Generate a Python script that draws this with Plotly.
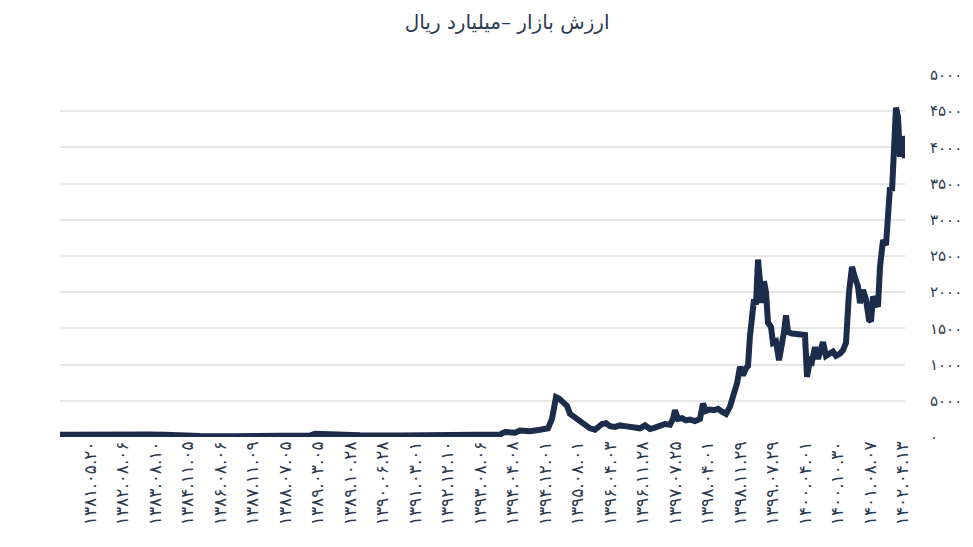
import plotly.graph_objects as go

# trading-day index (approx.) and market value (billion rials)
day = [0, 90, 150, 210, 360, 540, 630, 720, 840, 1020, 1200, 1380, 1500, 1530, 1620, 1800, 2040,
       2280, 2400, 2520, 2640, 2670, 2730, 2760, 2820, 2880, 2928, 2952, 2976, 2994, 3018, 3042,
       3060, 3090, 3120, 3150, 3180, 3210, 3228, 3252, 3276, 3300, 3330, 3360, 3390, 3420, 3450,
       3480, 3510, 3540, 3570, 3600, 3630, 3660, 3678, 3690, 3708, 3732, 3756, 3780, 3810, 3840,
       3858, 3876, 3900, 3924, 3948, 3972, 3996, 4020, 4044, 4062, 4080, 4098, 4116, 4128, 4140,
       4152, 4164, 4176, 4188, 4200, 4212, 4224, 4236, 4248, 4266, 4278, 4296, 4314, 4332, 4344,
       4356, 4368, 4392, 4440, 4470, 4482, 4500, 4512, 4530, 4548, 4578, 4596, 4620, 4638, 4656,
       4680, 4698, 4716, 4734, 4752, 4770, 4788, 4800, 4818, 4836, 4854, 4866, 4878, 4896, 4908,
       4920, 4938, 4956, 4968, 4980, 4992, 5004, 5016, 5028, 5040, 5052, 5064, 5070]
value = [300, 320, 400, 330, 300, 350, 300, 200, 150, 120, 130, 150, 200, 450, 350, 250, 200,
         250, 350, 300, 350, 700, 600, 900, 800, 1000, 1200, 2500, 5500, 5300, 4800, 4300,
         3200, 2700, 2200, 1700, 1200, 1000, 1300, 1800, 1900, 1500, 1400, 1600, 1500, 1400, 1500,
         1200, 1600, 1100, 1300, 1500, 1800, 1700, 2500, 3700, 2500, 2600, 2300, 2400, 2200, 2500,
         4600, 3600, 3800, 3700, 3900, 3500, 3200, 4200, 5800, 7400, 9700, 8500, 9500, 9800, 14000,
         17800, 19000, 18300, 24500, 21500, 18500, 21500, 20000, 15800, 15200, 13000, 13200, 10600,
         12500, 14500, 16800, 14500, 14300, 14200, 14100, 8300, 10600, 10400, 12400, 10800, 13100,
         11200, 11600, 11800, 11200, 11500, 12000, 13000, 20000, 23500, 22000, 20800, 18500, 20300,
         19000, 16200, 16000, 19400, 18500, 18000, 23500, 27200, 26500, 30900, 34500, 34000, 39000,
         45500, 44200, 38700, 41400, 41000, 38500]

tick_days = [180 + 195 * i for i in range(26)]
tick_labels = ["۱۳۸۱.۰۵.۲۰", "۱۳۸۲.۰۸.۰۶", "۱۳۸۳.۰۸.۱۰", "۱۳۸۴.۱۱.۰۵", "۱۳۸۶.۰۸.۰۶",
               "۱۳۸۷.۱۱.۰۹", "۱۳۸۸.۰۷.۰۵", "۱۳۸۹.۰۳.۰۵", "۱۳۸۹.۱۰.۲۸", "۱۳۹۰.۰۶.۲۸",
               "۱۳۹۱.۰۳.۰۱", "۱۳۹۲.۱۲.۱۰", "۱۳۹۳.۰۸.۰۶", "۱۳۹۴.۰۴.۰۸", "۱۳۹۴.۱۲.۰۱",
               "۱۳۹۵.۰۸.۰۱", "۱۳۹۶.۰۴.۰۳", "۱۳۹۶.۱۱.۲۸", "۱۳۹۷.۰۷.۲۵", "۱۳۹۸.۰۴.۰۱",
               "۱۳۹۸.۱۱.۲۹", "۱۳۹۹.۰۷.۲۹", "۱۴۰۰.۰۴.۰۱", "۱۴۰۰.۱۰.۳۰", "۱۴۰۱.۰۸.۰۷",
               "۱۴۰۲.۰۴.۱۳"]
y_ticks = [0, 5000, 10000, 15000, 20000, 25000, 30000, 35000, 40000, 45000, 50000]
y_labels = ["۰", "۵۰۰۰", "۱۰۰۰۰", "۱۵۰۰۰", "۲۰۰۰۰", "۲۵۰۰۰", "۳۰۰۰۰", "۳۵۰۰۰",
            "۴۰۰۰۰", "۴۵۰۰۰", "۵۰۰۰۰"]

fig = go.Figure(go.Scatter(
    x=day, y=value, mode="lines",
    line=dict(color="#1b2d4b", width=6, shape="linear"),
    hoverinfo="skip"))

fig.update_layout(
    width=973, height=547,
    margin=dict(l=52, r=76, t=67, b=118, autoexpand=False),
    paper_bgcolor="white", plot_bgcolor="white",
    font=dict(family="DejaVu Sans", color="#2c3a4f"),
    title=dict(text="ارزش بازار –میلیارد ریال", x=0.513, xanchor="center",
               y=0.975, yanchor="middle", font=dict(size=20, color="#2c3a4f")),
    showlegend=False,
)
fig.update_xaxes(range=[0, 5070], tickmode="array", tickvals=tick_days, ticktext=tick_labels,
                 tickangle=-90, tickfont=dict(size=17, color="#2c3a4f"), showgrid=False,
                 zeroline=False, showline=False, ticks="", automargin=False)
fig.update_yaxes(range=[0, 50000], side="right", tickmode="array", tickvals=y_ticks,
                 ticktext=y_labels, tickfont=dict(size=15, color="#2c3a4f"),
                 showgrid=True, gridcolor="#e6e6e6", gridwidth=2, zeroline=False,
                 showline=False, ticks="", ticklabelstandoff=24, automargin=False)

fig.write_html("out.html")
